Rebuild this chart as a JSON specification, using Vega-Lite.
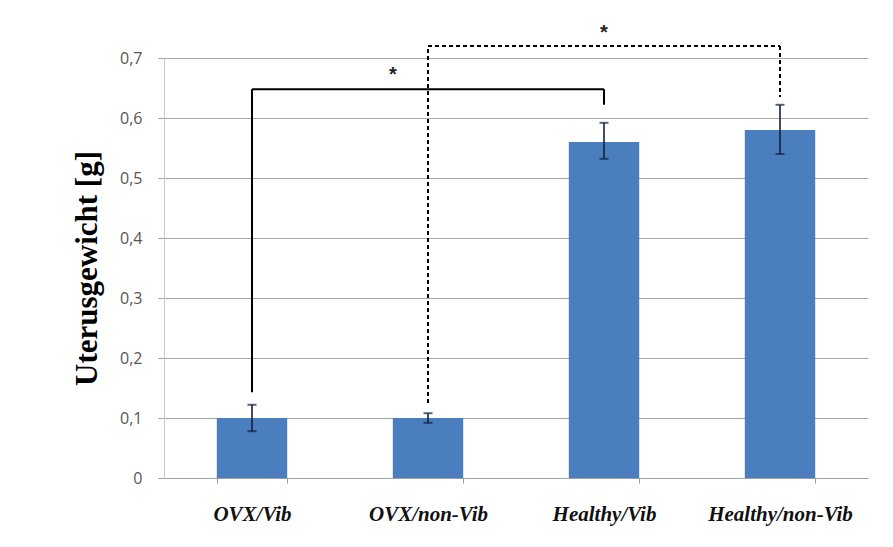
{
  "$schema": "https://vega.github.io/schema/vega-lite/v6.json",
  "width": 704,
  "height": 420,
  "autosize": {"type": "none"},
  "padding": {"left": 164, "top": 58, "right": 25, "bottom": 69},
  "background": "white",
  "config": {"view": {"stroke": null}},
  "datasets": {
    "bars": [
      {"group": "OVX/Vib", "value": 0.10, "lo": 0.078, "hi": 0.122},
      {"group": "OVX/non-Vib", "value": 0.10, "lo": 0.092, "hi": 0.108},
      {"group": "Healthy/Vib", "value": 0.56, "lo": 0.532, "hi": 0.592},
      {"group": "Healthy/non-Vib", "value": 0.58, "lo": 0.54, "hi": 0.622}
    ],
    "brackets": [
      {"style": "solid", "xa": "OVX/Vib", "xb": "OVX/Vib", "ya": 0.143, "yb": 0.648},
      {"style": "solid", "xa": "OVX/Vib", "xb": "Healthy/Vib", "ya": 0.648, "yb": 0.648},
      {"style": "solid", "xa": "Healthy/Vib", "xb": "Healthy/Vib", "ya": 0.648, "yb": 0.622},
      {"style": "dashed", "xa": "OVX/non-Vib", "xb": "OVX/non-Vib", "ya": 0.125, "yb": 0.72},
      {"style": "dashed", "xa": "OVX/non-Vib", "xb": "Healthy/non-Vib", "ya": 0.72, "yb": 0.72},
      {"style": "dashed", "xa": "Healthy/non-Vib", "xb": "Healthy/non-Vib", "ya": 0.72, "yb": 0.635}
    ],
    "star1": [{"group": "OVX/non-Vib", "y": 0.672, "label": "*"}],
    "star2": [{"group": "Healthy/Vib", "y": 0.742, "label": "*"}]
  },
  "layer": [
    {
      "data": {"name": "bars"},
      "mark": {"type": "bar", "color": "#4a7ebf"},
      "encoding": {
        "x": {
          "field": "group", "type": "nominal", "sort": null,
          "scale": {"paddingInner": 0.6, "paddingOuter": 0.3},
          "axis": {
            "title": null, "labelAngle": 0,
            "labelFont": "Liberation Serif", "labelFontStyle": "italic", "labelFontWeight": "bold",
            "labelFontSize": 21, "labelColor": "#111111", "labelPadding": 20,
            "tickBand": "extent", "tickSize": 5, "tickColor": "#a0a0a0",
            "domainColor": "#a0a0a0", "grid": false
          }
        },
        "y": {
          "field": "value", "type": "quantitative",
          "scale": {"domain": [0, 0.7], "nice": false},
          "axis": {
            "title": "Uterusgewicht [g]",
            "titleFont": "Liberation Serif", "titleFontWeight": "bold", "titleFontSize": 31,
            "titleColor": "#000000", "titlePadding": 16,
            "values": [0, 0.1, 0.2, 0.3, 0.4, 0.5, 0.6, 0.7],
            "labelExpr": "datum.value == 0 ? '0' : replace(format(datum.value, '.1f'), '.', ',')",
            "labelFont": "Open Sans", "labelFontSize": 16, "labelColor": "#555555", "labelPadding": 16,
            "tickSize": 6, "tickColor": "#a0a0a0",
            "domainColor": "#c8c8c8",
            "grid": true, "gridColor": "#a8a8a8", "gridWidth": 1
          }
        }
      }
    },
    {
      "data": {"name": "bars"},
      "mark": {"type": "rule", "color": "#14213d", "strokeWidth": 1.6},
      "encoding": {
        "x": {"field": "group", "type": "nominal", "sort": null, "bandPosition": 0.5},
        "y": {"field": "lo", "type": "quantitative"},
        "y2": {"field": "hi"}
      }
    },
    {
      "data": {"name": "bars"},
      "mark": {"type": "tick", "color": "#14213d", "thickness": 2, "size": 9},
      "encoding": {
        "x": {"field": "group", "type": "nominal", "sort": null},
        "y": {"field": "lo", "type": "quantitative"}
      }
    },
    {
      "data": {"name": "bars"},
      "mark": {"type": "tick", "color": "#14213d", "thickness": 2, "size": 9},
      "encoding": {
        "x": {"field": "group", "type": "nominal", "sort": null},
        "y": {"field": "hi", "type": "quantitative"}
      }
    },
    {
      "data": {"name": "brackets"},
      "mark": {"type": "rule", "color": "#000000", "strokeWidth": 2},
      "encoding": {
        "x": {"field": "xa", "type": "nominal", "sort": null, "bandPosition": 0.5},
        "x2": {"field": "xb", "bandPosition": 0.5},
        "y": {"field": "ya", "type": "quantitative"},
        "y2": {"field": "yb"},
        "strokeDash": {
          "field": "style", "type": "nominal",
          "scale": {"domain": ["solid", "dashed"], "range": [[1, 0], [4, 3]]},
          "legend": null
        }
      }
    },
    {
      "data": {"name": "star1"},
      "mark": {"type": "text", "fontSize": 20, "fontWeight": "bold", "color": "#222222", "baseline": "middle"},
      "encoding": {
        "x": {"field": "group", "type": "nominal", "sort": null, "bandPosition": 0},
        "y": {"field": "y", "type": "quantitative"},
        "text": {"field": "label"}
      }
    },
    {
      "data": {"name": "star2"},
      "mark": {"type": "text", "fontSize": 20, "fontWeight": "bold", "color": "#222222", "baseline": "middle"},
      "encoding": {
        "x": {"field": "group", "type": "nominal", "sort": null, "bandPosition": 0.5},
        "y": {"field": "y", "type": "quantitative"},
        "text": {"field": "label"}
      }
    }
  ]
}
